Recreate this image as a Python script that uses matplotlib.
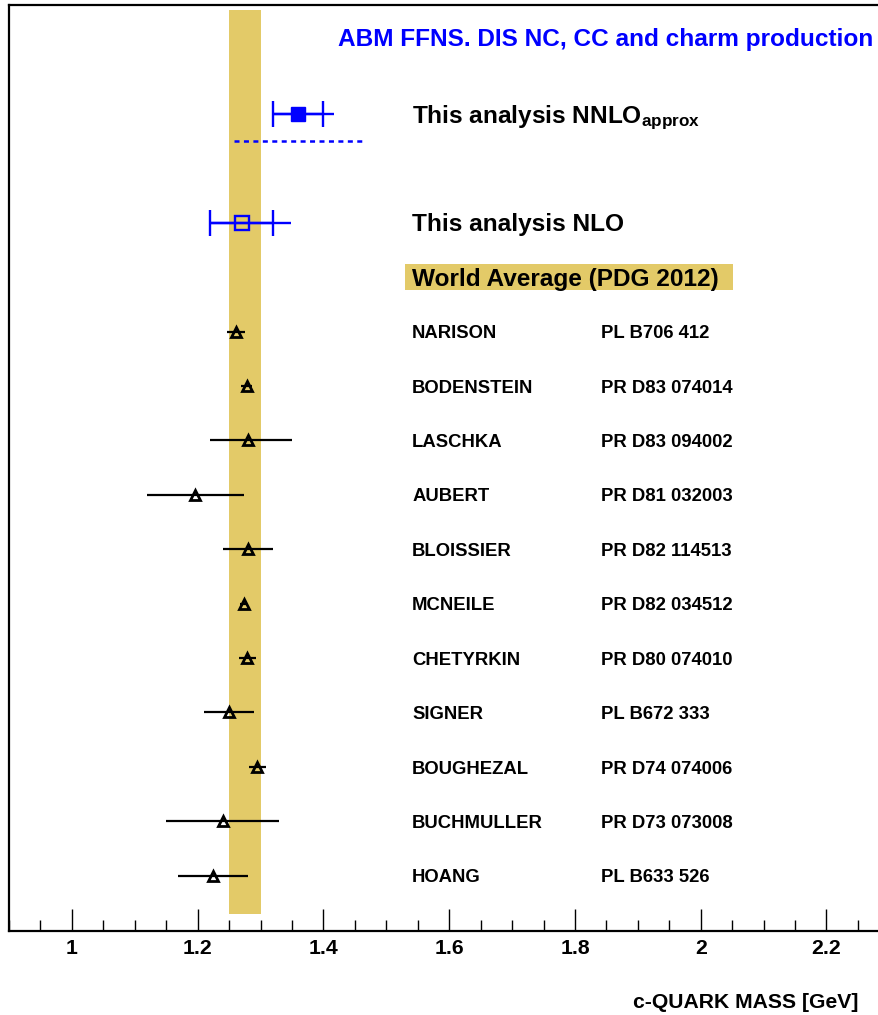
import matplotlib
matplotlib.use('Agg')
import matplotlib.pyplot as plt
from matplotlib.ticker import MultipleLocator, FuncFormatter
from matplotlib.patches import Rectangle
import matplotlib.transforms as mtransforms

plt.rcParams['font.family'] = ['Liberation Sans', 'DejaVu Sans']
plt.rcParams['font.weight'] = 'bold'
plt.rcParams['mathtext.fontset'] = 'custom'
plt.rcParams['mathtext.rm'] = 'Liberation Sans:bold'
plt.rcParams['mathtext.it'] = 'Liberation Sans:bold'
plt.rcParams['mathtext.bf'] = 'Liberation Sans:bold'
plt.rcParams['lines.scale_dashes'] = False

# ---------------- data ----------------
names = ['NARISON', 'BODENSTEIN', 'LASCHKA', 'AUBERT', 'BLOISSIER', 'MCNEILE',
         'CHETYRKIN', 'SIGNER', 'BOUGHEZAL', 'BUCHMULLER', 'HOANG']
refs = ['PL B706 412', 'PR D83 074014', 'PR D83 094002', 'PR D81 032003',
        'PR D82 114513', 'PR D82 034512', 'PR D80 074010', 'PL B672 333',
        'PR D74 074006', 'PR D73 073008', 'PL B633 526']
values = [1.261, 1.278, 1.28, 1.196, 1.28, 1.273, 1.279, 1.25, 1.295, 1.24, 1.224]
err_lo = [0.015, 0.009, 0.06, 0.077, 0.04, 0.006, 0.013, 0.04, 0.014, 0.09, 0.056]
err_hi = [0.015, 0.009, 0.07, 0.077, 0.04, 0.006, 0.013, 0.04, 0.014, 0.09, 0.056]

nnlo_value = 1.36
nnlo_exp = 0.04
nnlo_tot_hi = 0.057
nnlo_theory = 0.102

nlo_value = 1.27
nlo_exp = 0.05
nlo_tot_hi = 0.078

pdg_value = 1.275
pdg_err = 0.025

title = 'ABM FFNS. DIS NC, CC and charm production'
xlabel = 'c-QUARK MASS [GeV]'

# ---------------- layout ----------------
band_color = '#E3CA68'
blue = '#0000FF'
rows = list(range(len(names)))
row_nnlo = -4.0
row_nnlo_th = -3.5
row_nlo = -2.0
row_wa = -1.0
row_title = -5.4
name_x = 1.541
ref_x = 1.841

fig = plt.figure(figsize=(8.79, 10.15), dpi=100)
ax = fig.add_axes([9 / 879, 1 - 930.7 / 1015, 870 / 879, 925.7 / 1015])
ax.set_xlim(0.9, 2.2835)
ax.set_ylim(11.01, -6.0)

# PDG band
ax.axvspan(pdg_value - pdg_err, pdg_value + pdg_err, ymin=0.018, ymax=0.9946,
           color=band_color, lw=0, zorder=0)


def label(x, y, s, size, **kw):
    tr = mtransforms.offset_copy(ax.transData, fig=fig, y=-0.36 * size, units='points')
    return ax.text(x, y, s, fontsize=size, va='baseline', transform=tr,
                   fontweight='bold', **kw)


# literature
for i, (n, r, v, lo, hi) in enumerate(zip(names, refs, values, err_lo, err_hi)):
    ax.errorbar([v], [rows[i]], xerr=[[lo], [hi]], fmt='none', ecolor='black',
                elinewidth=1.6, capsize=0, zorder=3)
    ax.plot([v], [rows[i]], marker='^', ms=7.2, mfc='none', mec='black',
            mew=2.0, ls='none', zorder=4)
    label(name_x, rows[i], n, 13.3)
    label(ref_x, rows[i], r, 13.3)

# NNLO approx
ax.hlines(row_nnlo, nnlo_value - nnlo_exp, nnlo_value + nnlo_tot_hi, color=blue,
          lw=1.7, zorder=3)
ax.errorbar([nnlo_value], [row_nnlo], xerr=[[nnlo_exp], [nnlo_exp]], fmt='s',
            color=blue, ms=10.5, elinewidth=1.7, capsize=9.4, capthick=1.7, zorder=4)
ax.plot([nnlo_value - nnlo_theory, nnlo_value + nnlo_theory], [row_nnlo_th] * 2,
        color=blue, lw=1.8, dashes=(3.6, 3.2), zorder=3)
label(name_x, row_nnlo, r'This analysis NNLO$_{\mathrm{approx}}$', 17.6)

# NLO
ax.hlines(row_nlo, nlo_value - nlo_exp, nlo_value + nlo_tot_hi, color=blue,
          lw=1.7, zorder=3)
ax.errorbar([nlo_value], [row_nlo], xerr=[[nlo_exp], [nlo_exp]], fmt='s',
            color=blue, mfc='none', mec=blue, mew=1.7, ms=9.5, elinewidth=1.7,
            capsize=9.4, capthick=1.7, zorder=4)
label(name_x, row_nlo, 'This analysis NLO', 17.6)

# World average label
ax.add_patch(Rectangle((name_x - 0.012, row_wa - 0.24), 0.522, 0.48,
                       facecolor=band_color, edgecolor='none', zorder=1))
label(name_x, row_wa, 'World Average (PDG 2012)', 17.6, zorder=2)

# title
label(2.275, row_title, title, 17.6, ha='right', color=blue)

# axes styling
for side in ['left', 'top', 'bottom']:
    ax.spines[side].set_linewidth(1.6)
ax.spines['right'].set_visible(False)
ax.set_yticks([])
ax.xaxis.set_major_locator(MultipleLocator(0.2))
ax.xaxis.set_minor_locator(MultipleLocator(0.05))
ax.xaxis.set_major_formatter(FuncFormatter(lambda v, p: f'{v:g}'))
ax.tick_params(axis='x', which='major', direction='in', length=16, width=1.0,
               labelsize=15.3, pad=6)
ax.tick_params(axis='x', which='minor', direction='in', length=8, width=1.0)
for t in ax.get_xticklabels():
    t.set_fontweight('bold')

fig.text(859 / 879, 1 - 1007.7 / 1015, xlabel, ha='right', va='baseline',
         fontsize=15.2, fontweight='bold')

fig.savefig('out.png', dpi=100)
